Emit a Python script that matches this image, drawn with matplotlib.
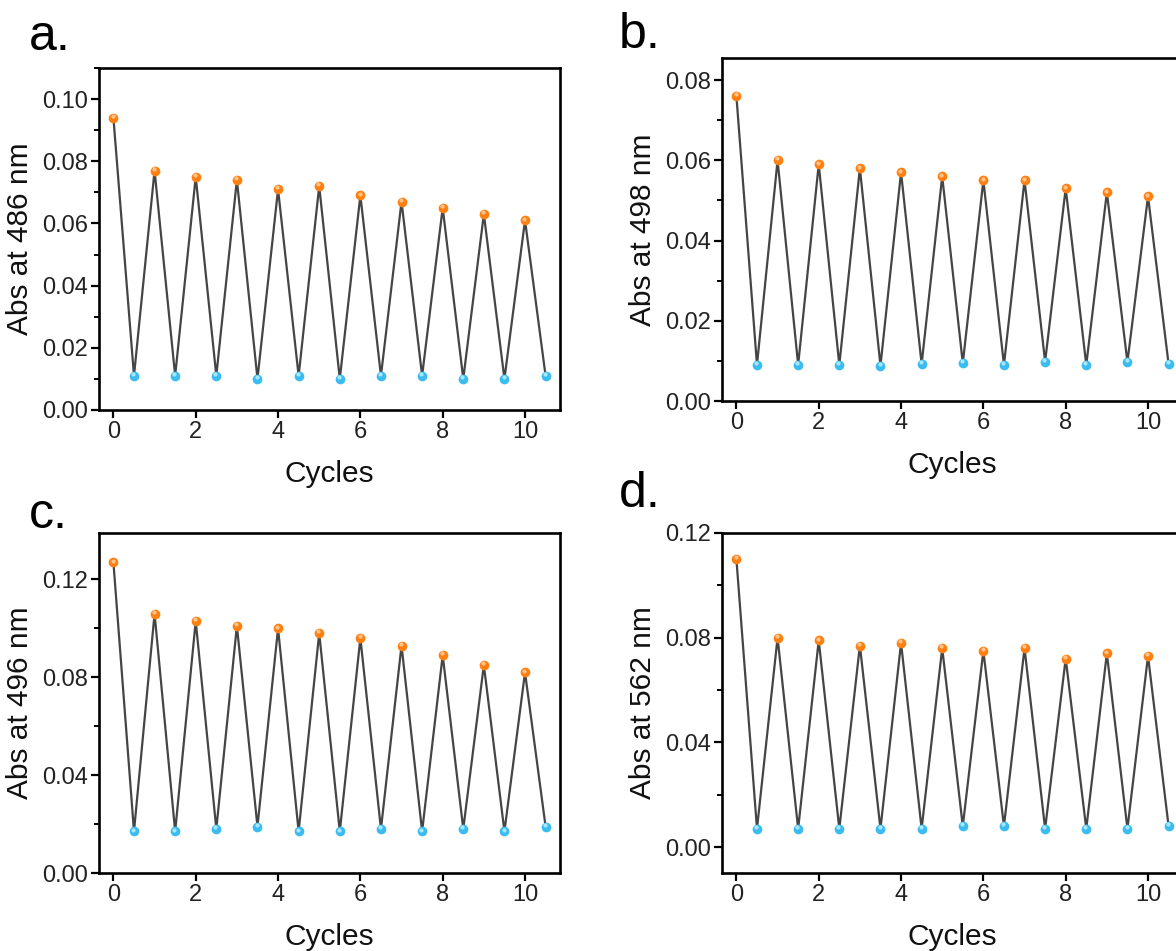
import matplotlib.pyplot as plt
import matplotlib.transforms as mtransforms
from matplotlib.ticker import MultipleLocator, AutoMinorLocator

plt.rcParams["font.family"] = ["Liberation Sans", "DejaVu Sans"]

# cycle positions: coloured state at integers, bleached state at half-integers
peak_x = [0, 1, 2, 3, 4, 5, 6, 7, 8, 9, 10]
trough_x = [0.5, 1.5, 2.5, 3.5, 4.5, 5.5, 6.5, 7.5, 8.5, 9.5, 10.5]

a_peaks = [0.094, 0.077, 0.075, 0.074, 0.071, 0.072, 0.069, 0.067, 0.065, 0.063, 0.061]
a_troughs = [0.011, 0.011, 0.011, 0.010, 0.011, 0.010, 0.011, 0.011, 0.010, 0.010, 0.011]

b_peaks = [0.076, 0.060, 0.059, 0.058, 0.057, 0.056, 0.055, 0.055, 0.053, 0.052, 0.051]
b_troughs = [0.009, 0.009, 0.009, 0.0088, 0.0092, 0.0094, 0.009, 0.0098, 0.009, 0.0097, 0.0092]

c_peaks = [0.127, 0.106, 0.103, 0.101, 0.100, 0.098, 0.096, 0.093, 0.089, 0.085, 0.082]
c_troughs = [0.017, 0.017, 0.018, 0.019, 0.017, 0.017, 0.018, 0.017, 0.018, 0.017, 0.019]

d_peaks = [0.110, 0.080, 0.079, 0.077, 0.078, 0.076, 0.075, 0.076, 0.072, 0.074, 0.073]
d_troughs = [0.007, 0.007, 0.007, 0.007, 0.007, 0.008, 0.008, 0.007, 0.007, 0.007, 0.008]

LINE = "#454545"
ORANGE = "#ff7f10"
BLUE = "#3bbcf0"

W, H = 1176, 951
fig = plt.figure(figsize=(W / 100, H / 100), dpi=100)


def make_panel(rect_px, letter, letter_px, peaks, troughs, wavelength, ylim, ystep):
    left, top, right, bottom = rect_px
    ax = fig.add_axes([left / W, 1 - bottom / H, (right - left) / W, (bottom - top) / H])

    # interleave peaks and troughs into one zig-zag trace
    xs, ys = [], []
    for px, py, tx, ty in zip(peak_x, peaks, trough_x, troughs):
        xs += [px, tx]
        ys += [py, ty]
    ax.plot(xs, ys, color=LINE, lw=1.6, zorder=2)
    ax.plot(peak_x, peaks, "o", ms=7, color=ORANGE, mew=0, zorder=3)
    ax.plot(trough_x, troughs, "o", ms=7, color=BLUE, mew=0, zorder=3)
    # soft highlight near the top of each ball marker
    shift = mtransforms.offset_copy(ax.transData, fig=fig, x=-0.6, y=1.3, units="points")
    ax.plot(peak_x, peaks, "o", ms=3, color="#ffc48c", mew=0, zorder=4, transform=shift)
    ax.plot(trough_x, troughs, "o", ms=3, color="#a8e6fc", mew=0, zorder=4, transform=shift)

    ax.set_xlim(-0.35, 10.85)
    ax.set_ylim(*ylim)
    ax.xaxis.set_major_locator(MultipleLocator(2))
    ax.yaxis.set_major_locator(MultipleLocator(ystep))
    ax.yaxis.set_minor_locator(AutoMinorLocator(2))
    ax.yaxis.set_major_formatter(plt.FormatStrFormatter("%.2f"))

    for s in ax.spines.values():
        s.set_linewidth(1.9)
    ax.tick_params(which="major", direction="out", length=6, width=1.6, pad=2,
                   labelsize=17, top=False, right=False, colors="black")
    ax.tick_params(which="minor", direction="out", length=3.5, width=1.4)
    for lbl in ax.get_xticklabels() + ax.get_yticklabels():
        lbl.set_color("#222222")

    ax.set_xlabel("Cycles", fontsize=21.5, labelpad=12, color="#111111")
    ax.set_ylabel(f"Abs at {wavelength} nm", fontsize=21.5, labelpad=6, color="#111111")

    fig.text(letter_px[0] / W, 1 - letter_px[1] / H, letter, fontsize=36,
             ha="left", va="baseline")
    return ax


make_panel((99, 68, 560, 410), "a.", (29, 50), a_peaks, a_troughs, 486, (0, 0.11), 0.02)
make_panel((722, 58, 1183, 401), "b.", (619, 48), b_peaks, b_troughs, 498, (0, 0.0855), 0.02)
make_panel((99, 533, 560, 873), "c.", (29, 528), c_peaks, c_troughs, 496, (0, 0.139), 0.04)
make_panel((722, 533, 1183, 873), "d.", (619, 507), d_peaks, d_troughs, 562, (-0.0099, 0.12), 0.04)

fig.savefig("out.png", dpi=100)
